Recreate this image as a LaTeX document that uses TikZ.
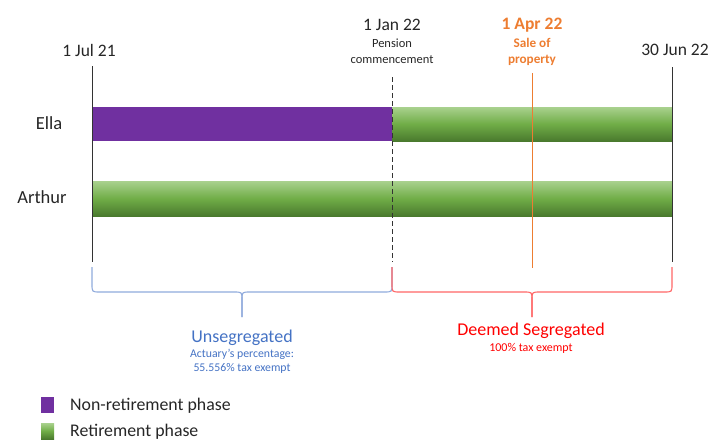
\documentclass[tikz,border=0pt]{standalone}
\usepackage{fontspec}
\setmainfont{Carlito}
\definecolor{purp}{HTML}{7030A0}
\definecolor{gtop}{HTML}{A9D18E}
\definecolor{gmid}{HTML}{70AD47}
\definecolor{gbot}{HTML}{4A7A2E}
\definecolor{orng}{HTML}{ED7D31}
\definecolor{bluet}{HTML}{4472C4}
\definecolor{blueb}{HTML}{8FAADC}
\definecolor{redt}{HTML}{FF0000}
\definecolor{redb}{HTML}{FF6666}
\begin{document}
\begin{tikzpicture}[x=1pt,y=-1pt,
  greenbar/.style={top color=gtop,bottom color=gbot,middle color=gmid,draw=none},
  purpbar/.style={fill=purp,draw=none},
  lbl/.style={inner sep=0pt,text=black!85},
  vline/.style={line width=0.9pt,black!80},
  bracestyle/.style={line width=1.1pt}]
\useasboundingbox (0,0) rectangle (711,440);
% bars
\fill[purpbar] (92,107) rectangle (392,141);
\shade[greenbar] (392,107) rectangle (672,141);
\shade[greenbar] (92,181) rectangle (672,216);
% coordinates
\coordinate (a1) at (92,66); \coordinate (a2) at (92,262);
\coordinate (b1) at (392,77); \coordinate (b2) at (392,262);
\coordinate (c1) at (532,73); \coordinate (c2) at (532,268);
\coordinate (d1) at (672,67); \coordinate (d2) at (672,262);
\draw[vline] (a1) -- (a2);
\draw[vline] (d1) -- (d2);
\draw[vline,dashed,dash pattern=on 5pt off 3pt] (b1) -- (b2);
\draw[orng,line width=0.9pt] (c1) -- (c2);
% labels
\node[lbl,font=\fontsize{18.5}{18.5}\selectfont] (ella) at (49,123) {Ella};
\node[lbl,font=\fontsize{18.5}{18.5}\selectfont] (arthur) at (42,197) {Arthur};
\node[lbl,font=\fontsize{17.5}{17.5}\selectfont] (d21) at (89,50) {1 Jul 21};
\node[lbl,font=\fontsize{17.5}{17.5}\selectfont] (d22) at (675,50) {30 Jun 22};
\node[lbl,font=\fontsize{17.5}{17.5}\selectfont] (jan) at (392,25) {1 Jan 22};
\node[lbl,font=\fontsize{12.5}{12.5}\selectfont] (pen) at (392,43) {Pension};
\node[lbl,font=\fontsize{12.5}{12.5}\selectfont] (com) at (392,60) {commencement};
\node[lbl,text=orng,font=\bfseries\fontsize{17.5}{17.5}\selectfont] (apr) at (532,25) {1 Apr 22};
\node[lbl,text=orng,font=\bfseries\fontsize{13.2}{13.2}\selectfont] (sale) at (532,43) {Sale of};
\node[lbl,text=orng,font=\bfseries\fontsize{13.2}{13.2}\selectfont] (prop) at (532,60) {property};
% braces
\coordinate (bl0) at (92,267); \coordinate (bl1) at (392,267); \coordinate (blt) at (242,317);
\draw[blueb,bracestyle] (bl0) -- (92,284) .. controls (92,292) .. (100,292) -- (234,292)
  .. controls (242,292) .. (242,300) -- (blt);
\draw[blueb,bracestyle] (bl1) -- (392,284) .. controls (392,292) .. (384,292) -- (250,292)
  .. controls (242,292) .. (242,300) -- (blt);
\coordinate (rl0) at (392,267); \coordinate (rl1) at (672,267); \coordinate (rlt) at (532,317);
\draw[redb,bracestyle] (rl0) -- (392,284) .. controls (392,292) .. (400,292) -- (524,292)
  .. controls (532,292) .. (532,300) -- (rlt);
\draw[redb,bracestyle] (rl1) -- (672,284) .. controls (672,292) .. (664,292) -- (540,292)
  .. controls (532,292) .. (532,300) -- (rlt);
% brace labels
\node[lbl,text=bluet,font=\fontsize{18}{18}\selectfont] (unseg) at (242,338) {Unsegregated};
\node[lbl,text=bluet,font=\fontsize{11.8}{11.8}\selectfont] (act) at (242,354) {Actuary’s percentage:};
\node[lbl,text=bluet,font=\fontsize{11.8}{11.8}\selectfont] (pct) at (242,368) {55.556\% tax exempt};
\node[lbl,text=redt,font=\fontsize{18}{18}\selectfont] (deem) at (531,331) {Deemed Segregated};
\node[lbl,text=redt,font=\fontsize{12}{12}\selectfont] (hund) at (531,348) {100\% tax exempt};
% legend
\fill[purpbar] (41,397) rectangle (54,413);
\shade[greenbar] (41,423) rectangle (54,439);
\node[lbl,anchor=west,font=\fontsize{17.8}{17.8}\selectfont] (leg1) at (70,406) {Non-retirement phase};
\node[lbl,anchor=west,font=\fontsize{17.8}{17.8}\selectfont] (leg2) at (70,432) {Retirement phase};
\end{tikzpicture}
\end{document}
